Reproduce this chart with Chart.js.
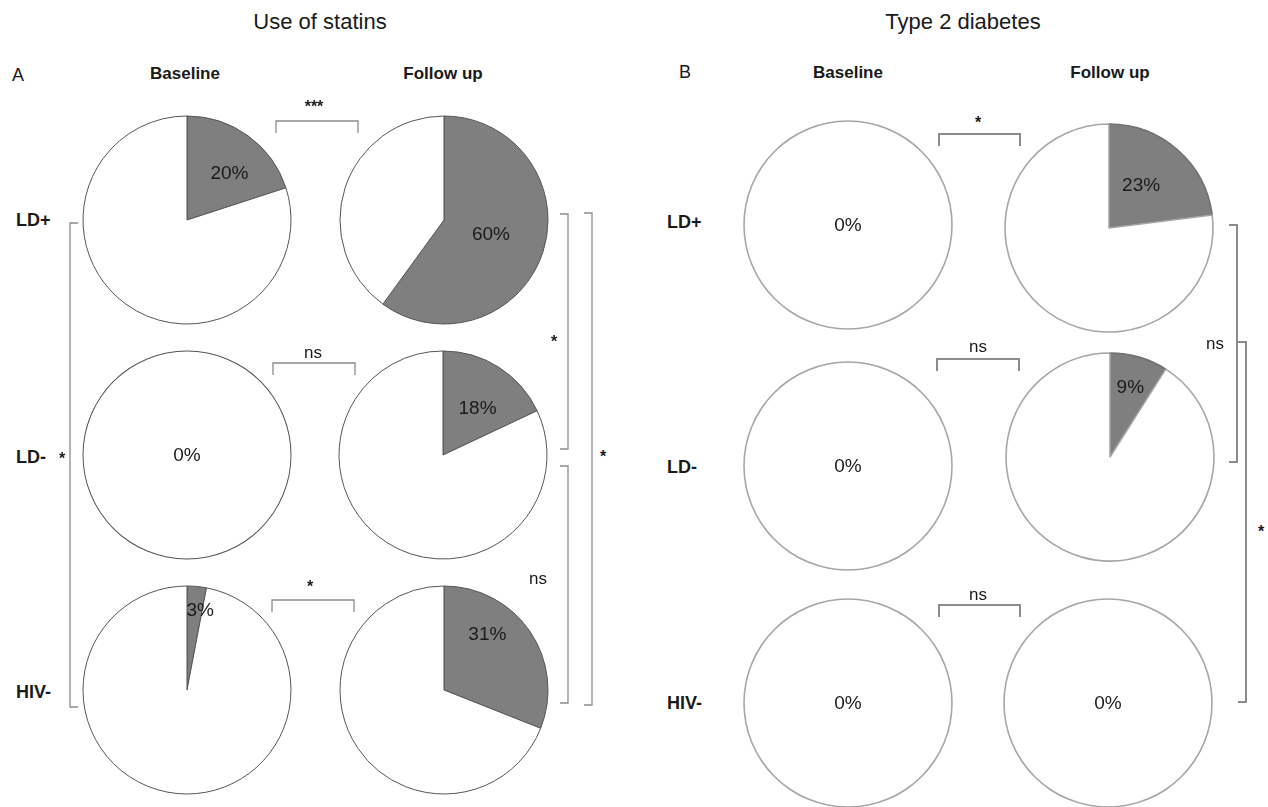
<!DOCTYPE html>
<html><head><meta charset="utf-8">
<script src="https://cdn.jsdelivr.net/npm/chart.js@4/dist/chart.umd.min.js"></script>
<style>
html,body{margin:0;padding:0;background:#fff;}
#stage{position:relative;width:1268px;height:807px;overflow:hidden;background:#fff;font-family:"Liberation Sans",Arial,sans-serif;color:#1a1a1a;}
.t{position:absolute;white-space:nowrap;line-height:1;transform:translate(-50%,-50%);}
.l{position:absolute;white-space:nowrap;line-height:1;transform:translate(0,-50%);}
.b{font-weight:bold;}
canvas.pie{position:absolute;}
svg{position:absolute;left:0;top:0;}
</style></head><body>
<div id="stage"><svg id="br" width="1268" height="807"></svg></div>
<script>
// ---- data ----
const groups = ['LD+', 'LD-', 'HIV-'];
const timepoints = ['Baseline', 'Follow up'];
const panelTitles = ['Use of statins', 'Type 2 diabetes'];
const panelLetters = ['A', 'B'];
const statinsBaseline = [20, 0, 3];
const statinsFollowUp = [60, 18, 31];
const diabetesBaseline = [0, 0, 0];
const diabetesFollowUp = [23, 9, 0];
const statinsPairSig = ['***', 'ns', '*'];
const diabetesPairSig = ['*', 'ns', 'ns'];
const statinsSideSig = ['*', '*', 'ns', '*'];   // baseline LD+ vs HIV-, FU LD+ vs LD-, FU LD- vs HIV-, FU LD+ vs HIV-
const diabetesSideSig = ['ns', '*'];            // FU LD+ vs LD-, FU LD+ vs HIV-

// ---- layout / style ----
const R = 104, S = 236;
const panels = [
  { values: [statinsBaseline, statinsFollowUp], pairSig: statinsPairSig,
    centers: [[[187,220],[444,220]], [[187,455],[443,455]], [[187,690],[444,690]]],
    border: ['#555', '#555'], ring: '#555', bw: 1,
    labelFrac: [[0.61, 0.47], [0, 0.56], [0.78, 0.68]],
    labelShift: [[6, -2], [0, 4], [4, -18]],
    titleXY: [320, 22], letterXY: [18, 75], headY: 73, headX: [185, 443],
    rowX: 16, rowY: [220, 457, 692],
    pairBr: [[276,358,121,133,314,107],[273,355,363,375,313,352],[272,354,600,612,310,587]],
    brColor: '#8c8c8c', brW: 1.3 },
  { values: [diabetesBaseline, diabetesFollowUp], pairSig: diabetesPairSig,
    centers: [[[848,225],[1109,228]], [[848,466],[1110,457]], [[848,703],[1108,703]]],
    border: ['#707070', '#a6a6a6'], ring: '#a6a6a6', bw: 1.6,
    labelFrac: [[0, 0.52], [0, 0.70], [0, 0]],
    labelShift: [[0, -5], [0, 0], [0, 0]],
    titleXY: [963, 22], letterXY: [685, 72], headY: 72, headX: [848, 1110],
    rowX: 667, rowY: [222, 467, 703],
    pairBr: [[939,1020,134,146,978,123],[937,1019,359,371,978,346],[939,1020,605,617,978,594]],
    brColor: '#8c8c8c', brW: 2 }
];
const sliceGray = '#7f7f7f';

const stage = document.getElementById('stage');
const svg = document.getElementById('br');
function addText(txt, x, y, size, cls) {
  const d = document.createElement('div');
  d.className = cls || 't';
  d.textContent = txt;
  d.style.left = x + 'px'; d.style.top = y + 'px'; d.style.fontSize = size + 'px';
  stage.appendChild(d);
  return d;
}
function path(d, color, w) {
  const p = document.createElementNS('http://www.w3.org/2000/svg', 'path');
  p.setAttribute('d', d); p.setAttribute('fill', 'none');
  p.setAttribute('stroke', color); p.setAttribute('stroke-width', w);
  svg.appendChild(p);
}

const sliceLabel = {
  id: 'sliceLabel',
  afterDatasetsDraw(chart, args, opts) {
    const di = opts.dataset;
    const arc = chart.getDatasetMeta(di).data[0];
    const p = arc.getProps(['x','y','startAngle','endAngle','outerRadius'], true);
    const v = chart.data.datasets[di].data[0];
    let lx = p.x, ly = p.y;
    if (v > 0) {
      const mid = (p.startAngle + p.endAngle) / 2 + opts.shift * Math.PI / 180;
      lx = p.x + Math.cos(mid) * p.outerRadius * opts.frac;
      ly = p.y + Math.sin(mid) * p.outerRadius * opts.frac;
    }
    const ctx = chart.ctx;
    ctx.save();
    ctx.font = '19px "Liberation Sans", Arial, sans-serif';
    ctx.fillStyle = '#1a1a1a';
    ctx.textAlign = 'center'; ctx.textBaseline = 'middle';
    ctx.fillText(v + '%', lx, ly + 1);
    ctx.restore();
  }
};

panels.forEach((P, pi) => {
  addText(panelTitles[pi], P.titleXY[0], P.titleXY[1], 22);
  addText(panelLetters[pi], P.letterXY[0], P.letterXY[1], 18);
  timepoints.forEach((tp, ti) => { addText(tp, P.headX[ti], P.headY, 17, 't b'); });
  groups.forEach((g, gi) => {
    addText(g, P.rowX, P.rowY[gi], 18, 'l b');
    P.values.forEach((arr, ti) => {
      const [cx, cy] = P.centers[gi][ti];
      const c = document.createElement('canvas');
      c.className = 'pie'; c.width = S; c.height = S;
      c.style.left = (cx - S / 2) + 'px'; c.style.top = (cy - S / 2) + 'px';
      c.style.width = S + 'px'; c.style.height = S + 'px';
      stage.appendChild(c);
      const v = arr[gi];
      let datasets, pad, di;
      if (v > 0) {
        pad = (S - P.bw - 2 * R) / 2;
        datasets = [{ data: [v, 100 - v], backgroundColor: [sliceGray, '#ffffff'],
          borderColor: P.border, borderWidth: P.bw }];
        di = 0;
      } else {
        // outline drawn as a thin outer ring so no seam line appears on a full circle
        pad = (S - 2 * (R + P.bw / 2)) / 2;
        datasets = [
          { data: [1], backgroundColor: [P.ring], borderWidth: 0, weight: P.bw },
          { data: [v, 100 - v], backgroundColor: [sliceGray, '#ffffff'], borderWidth: 0, weight: R - P.bw / 2 }
        ];
        di = 1;
      }
      new Chart(c, {
        type: 'pie',
        data: { labels: ['Yes', 'No'], datasets },
        options: { responsive: false, animation: false, devicePixelRatio: 1,
          layout: { padding: pad },
          plugins: { legend: { display: false }, tooltip: { enabled: false },
            sliceLabel: { frac: P.labelFrac[gi][ti], shift: P.labelShift[gi][ti], dataset: di } } },
        plugins: [sliceLabel]
      });
    });
    const b = P.pairBr[gi];
    path(`M${b[0]},${b[3]} L${b[0]},${b[2]} L${b[1]},${b[2]} L${b[1]},${b[3]}`, P.brColor, P.brW);
    addText(P.pairSig[gi], b[4], b[5], P.pairSig[gi] === 'ns' ? 17 : 16, P.pairSig[gi] === 'ns' ? 't' : 't b');
  });
});

function vBracket(x, y1, y2, tick, color, w) {
  path(`M${x + tick},${y1} L${x},${y1} L${x},${y2} L${x + tick},${y2}`, color, w);
}
// side brackets, statins
vBracket(70, 223, 707, 8, '#8c8c8c', 1.3);
addText(statinsSideSig[0], 62, 459, 16, 't b');
vBracket(568, 214, 449, -8, '#8c8c8c', 1.3);
addText(statinsSideSig[1], 554, 342, 16, 't b');
vBracket(568, 466, 703, -8, '#8c8c8c', 1.3);
addText(statinsSideSig[2], 538, 578, 17);
vBracket(592, 213, 705, -8, '#8c8c8c', 1.3);
addText(statinsSideSig[3], 603, 457, 16, 't b');
// side brackets, diabetes
vBracket(1237, 225, 462, -8, '#8c8c8c', 2);
addText(diabetesSideSig[0], 1215, 343, 17);
vBracket(1246, 342, 702, -8, '#8c8c8c', 2);
addText(diabetesSideSig[1], 1261, 532, 16, 't b');
</script>
</body></html>
